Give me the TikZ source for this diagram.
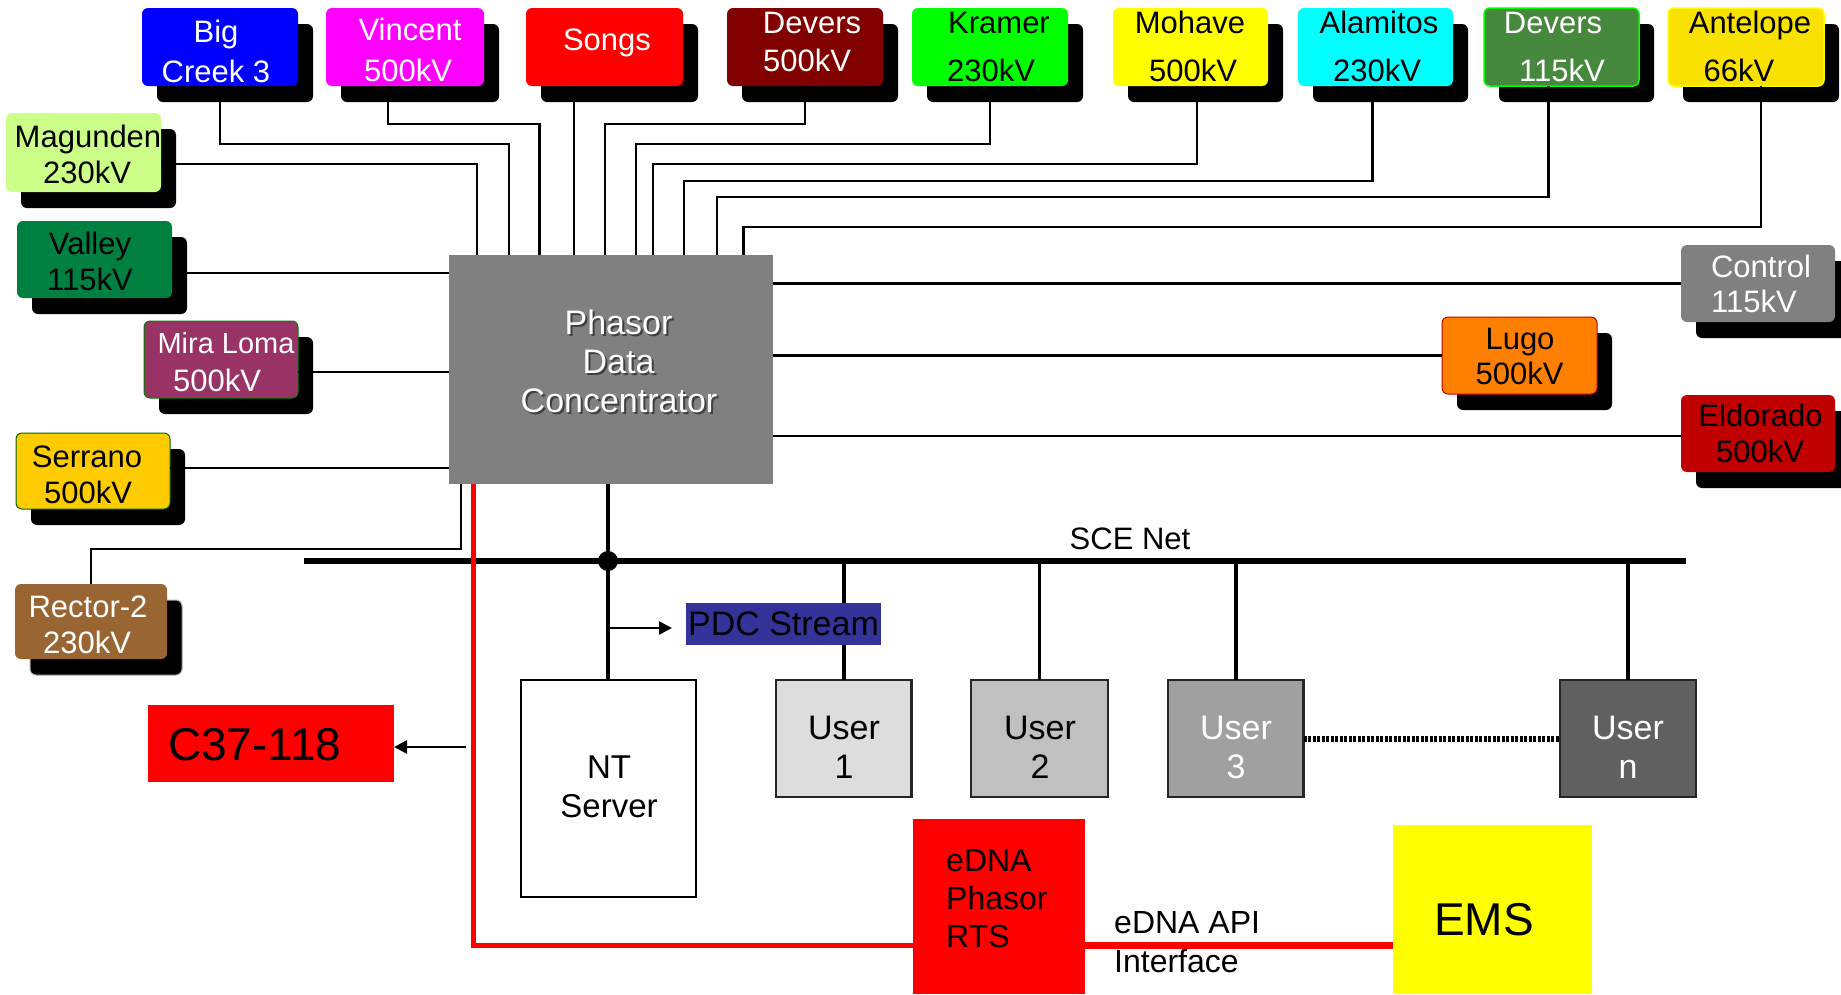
\documentclass[tikz,border=0pt]{standalone}
\usepackage{fontspec}
\setmainfont{Liberation Sans}
\usetikzlibrary{shadows,arrows.meta}
\definecolor{cBlue}{RGB}{0,0,255}
\definecolor{cMagenta}{RGB}{255,0,255}
\definecolor{cRed}{RGB}{255,0,0}
\definecolor{cGreen}{RGB}{0,255,0}
\definecolor{cYellow}{RGB}{255,255,0}
\definecolor{cCyan}{RGB}{0,255,255}
\definecolor{cMag}{RGB}{204,255,136}
\definecolor{cVal}{RGB}{0,128,64}
\definecolor{cDvA}{RGB}{128,0,0}
\definecolor{cDvB}{RGB}{70,136,62}
\definecolor{cAnt}{RGB}{250,226,0}
\definecolor{cMir}{RGB}{153,51,102}
\definecolor{cSer}{RGB}{255,204,0}
\definecolor{cRec}{RGB}{153,102,51}
\definecolor{cLug}{RGB}{255,128,0}
\definecolor{cEld}{RGB}{192,0,0}
\definecolor{cGray}{RGB}{128,128,128}
\definecolor{cPs}{RGB}{51,51,153}
\definecolor{cU1}{RGB}{221,221,221}
\definecolor{cU2}{RGB}{192,192,192}
\definecolor{cU3}{RGB}{160,160,160}
\definecolor{cUn}{RGB}{96,96,96}
\begin{document}
\begin{tikzpicture}[x=1pt,y=-1pt,
  st/.style={rounded corners=6pt, inner sep=0pt, outer sep=0pt,
    drop shadow={shadow xshift=15pt, shadow yshift=-16pt, opacity=1, fill=black}},
  topst/.style={st, minimum height=78pt},
  sidest/.style={st, minimum height=77pt},
  lbl/.style={anchor=base, inner sep=0pt, outer sep=0pt, font=\fontsize{31}{36}\selectfont},
  lblw/.style={lbl, text=white},
  big/.style={anchor=base, inner sep=0pt, outer sep=0pt, font=\fontsize{34}{39}\selectfont},
  blk/.style={inner sep=0pt, outer sep=0pt},
  wire/.style={draw=black, line width=2.2pt},
  ubox/.style={blk, draw=black!85, line width=2.5pt, minimum height=117pt},
  arr/.style={line width=2.5pt, -{Triangle[length=13pt,width=13pt]}}
]
\useasboundingbox (0,0) rectangle (1841,994);

% ---------- top row stations ----------
\node[topst, fill=cBlue, minimum width=156pt] (bc) at (220,47) {};
\node[lblw] (bc1) at (216,42) {Big};
\node[lblw] (bc2) at (216,82) {Creek 3};

\node[topst, fill=cMagenta, minimum width=158pt] (vin) at (405,47) {};
\node[lblw] (vin1) at (410,40) {Vincent};
\node[lblw] (vin2) at (408,81) {500kV};

\node[topst, fill=cRed, minimum width=157pt] (son) at (604.5,47) {};
\node[lblw] (son1) at (607,50) {Songs};

\node[topst, fill=cDvA, minimum width=156pt] (dv5) at (805,47) {};
\node[lblw] (dv51) at (812,33) {Devers};
\node[lblw] (dv52) at (807,71) {500kV};

\node[topst, fill=cGreen, minimum width=156pt] (kra) at (990,47) {};
\node[lbl] (kra1) at (999,33) {Kramer};
\node[lbl] (kra2) at (991,81) {230kV};

\node[topst, fill=cYellow, minimum width=155pt] (moh) at (1190.5,47) {};
\node[lbl] (moh1) at (1190,33) {Mohave};
\node[lbl] (moh2) at (1193,81) {500kV};

\node[topst, fill=cCyan, minimum width=155pt] (ala) at (1375.5,47) {};
\node[lbl] (ala1) at (1379,33) {Alamitos};
\node[lbl] (ala2) at (1377,81) {230kV};

\node[topst, fill=cDvB, draw=cGreen, line width=1.5pt, minimum width=155pt] (dv1) at (1561.5,47) {};
\node[lblw] (dv11) at (1553,33) {Devers};
\node[lblw] (dv12) at (1562,81) {115kV};

\node[topst, fill=cAnt, draw=cYellow, line width=1.5pt, minimum width=156pt] (ant) at (1746,47) {};
\node[lbl] (ant1) at (1750,33) {Antelope};
\node[lbl] (ant2) at (1739,81) {66kV};

% ---------- left stations ----------
\node[st, fill=cMag, minimum width=155pt, minimum height=79pt] (mag) at (83.5,152.5) {};
\node[lbl] (mag1) at (88,147) {Magunden};
\node[lbl] (mag2) at (87,183) {230kV};

\node[sidest, fill=cVal, minimum width=155pt] (val) at (94.5,259.5) {};
\node[lbl] (val1) at (90,254) {Valley};
\node[lbl] (val2) at (90,290) {115kV};

\node[sidest, fill=cMir, draw=green!50!black, line width=1pt, minimum width=154pt] (mir) at (221,359.5) {};
\node[lblw, font=\fontsize{29}{34}\selectfont] (mir1) at (226,353) {Mira Loma};
\node[lblw] (mir2) at (217,391) {500kV};

\node[st, fill=cSer, draw=green!40!black, line width=1pt, minimum width=154pt, minimum height=76pt] (ser) at (93,471) {};
\node[lbl] (ser1) at (87,467) {Serrano};
\node[lbl] (ser2) at (88,503) {500kV};

\node[st, fill=cRec, minimum width=152pt, minimum height=75pt,
  drop shadow={shadow xshift=15pt, shadow yshift=-16pt, opacity=1, fill=black, draw=gray!60, line width=1pt}] (rec) at (91,621.5) {};
\node[lblw] (rec1) at (88,617) {Rector-2};
\node[lblw] (rec2) at (87,653) {230kV};

% ---------- right stations ----------
\node[sidest, fill=cGray, minimum width=154pt] (ctl) at (1758,283.5) {};
\node[lblw] (ctl1) at (1761,277) {Control};
\node[lblw] (ctl2) at (1754,312) {115kV};

\node[sidest, fill=cLug, draw=cEld, line width=1pt, minimum width=155pt] (lug) at (1519.5,355.5) {};
\node[lbl] (lug1) at (1520,349) {Lugo};
\node[lbl] (lug2) at (1519.5,384) {500kV};

\node[sidest, fill=cEld, minimum width=154pt] (eld) at (1758,433.5) {};
\node[lbl] (eld1) at (1760.5,426) {Eldorado};
\node[lbl] (eld2) at (1760,462) {500kV};

% ---------- PDC ----------
\node[blk, fill=cGray, minimum width=324.5pt, minimum height=229.5pt] (pdc) at (610.75,369.25) {};
\node[big, text=black!75] (p1s) at (620.5,336) {Phasor};
\node[big, text=black!75] (p2s) at (620.5,375) {Data};
\node[big, text=black!75] (p3s) at (621,414) {Concentrator};
\node[big, text=white] (p1) at (618.5,334) {Phasor};
\node[big, text=white] (p2) at (618.5,373) {Data};
\node[big, text=white] (p3) at (619,412) {Concentrator};

% ---------- connectors to PDC ----------
\draw[wire] (bc.south) |- (509,144) -- (509,144 |- pdc.north);
\draw[wire] ([xshift=-17pt]vin.south) |- (539.5,124) -- (539.5,124 |- pdc.north);
\draw[wire] ([xshift=-30.5pt]son.south) -- ([xshift=-30.5pt]son.south |- pdc.north);
\draw[wire] (dv5.south) |- (605,124) -- (605,124 |- pdc.north);
\draw[wire] (kra.south) |- (636,144) -- (636,144 |- pdc.north);
\draw[wire] ([xshift=6.5pt]moh.south) |- (653,164) -- (653,164 |- pdc.north);
\draw[wire] ([xshift=-3pt]ala.south) |- (684,181) -- (684,181 |- pdc.north);
\draw[wire] ([xshift=-13pt]dv1.south) |- (717,197) -- (717,197 |- pdc.north);
\draw[wire] ([xshift=15pt]ant.south) |- (743.5,227) -- (743.5,227 |- pdc.north);
\draw[wire] (mag.east |- 0,164) -| (477,0 |- pdc.north);
\draw[wire] (val.east |- 0,273) -- (pdc.west |- 0,273);
\draw[wire] (mir.east |- 0,372) -- (pdc.west |- 0,372);
\draw[wire] (ser.east |- 0,468) -- (pdc.west |- 0,468);
\draw[wire] (rec.north) |- (461,549) -- (461,549 |- pdc.south);
\draw[wire] (pdc.east |- ctl.west) -- (ctl.west);
\draw[wire] (pdc.east |- lug.west) -- (lug.west);
\draw[wire] (pdc.east |- 0,436) -- (eld.west |- 0,436);

% ---------- lower part ----------
\node[blk, draw=black, line width=2pt, fill=white, minimum width=175pt, minimum height=217pt] (nt) at (608,788.5) {};
\node[big, font=\fontsize{33}{38}\selectfont] (nt1) at (609,778) {NT};
\node[big, font=\fontsize{33}{38}\selectfont] (nt2) at (609,817) {Server};

\node[ubox, fill=cU1, minimum width=135.6pt] (u1) at (843.8,738.5) {};
\node[big] (u1a) at (844,739) {User};
\node[big] (u1b) at (844,778) {1};
\node[ubox, fill=cU2, minimum width=137pt] (u2) at (1039.5,738.5) {};
\node[big] (u2a) at (1040,739) {User};
\node[big] (u2b) at (1040,778) {2};
\node[ubox, fill=cU3, minimum width=135.6pt] (u3) at (1235.8,738.5) {};
\node[big, text=white] (u3a) at (1236,739) {User};
\node[big, text=white] (u3b) at (1236,778) {3};
\node[ubox, fill=cUn, minimum width=136pt] (un) at (1628,738.5) {};
\node[big, text=white] (una) at (1628,739) {User};
\node[big, text=white] (unb) at (1628,778) {n};

\node[blk, fill=cRed, minimum width=246pt, minimum height=77pt] (c37) at (271,743.5) {};
\node[anchor=base west, inner sep=0pt, font=\fontsize{46}{52}\selectfont] (c37t) at (168,760) {C37-118};

\node[blk, fill=cRed, minimum width=172pt, minimum height=175pt] (edna) at (999,906.5) {};
\node[anchor=base west, inner sep=0pt, font=\fontsize{32}{37}\selectfont] (ed1) at (946,871) {eDNA};
\node[anchor=base west, inner sep=0pt, font=\fontsize{32}{37}\selectfont] (ed2) at (946,909) {Phasor};
\node[anchor=base west, inner sep=0pt, font=\fontsize{32}{37}\selectfont] (ed3) at (946,947) {RTS};

\node[blk, fill=cYellow, minimum width=199pt, minimum height=169pt] (ems) at (1492.5,909.5) {};
\node[anchor=base, inner sep=0pt, font=\fontsize{46}{52}\selectfont] (emst) at (1484,935) {EMS};

\node[anchor=base west, inner sep=0pt, font=\fontsize{32}{37}\selectfont] (api1) at (1114,933) {eDNA API};
\node[anchor=base west, inner sep=0pt, font=\fontsize{32}{37}\selectfont] (api2) at (1114,972) {Interface};

% bus
\coordinate (busL) at (303.6,561);
\coordinate (busR) at (1686,561);
\draw[line width=6.5pt] (busL) -- (busR);
\node[lbl] (sce) at (1130,549) {SCE Net};

\draw[line width=4pt] (nt.north |- pdc.south) -- (nt.north);
\node[circle, fill=black, minimum size=20pt, inner sep=0pt] (dot) at (nt.north |- busL) {};
\foreach \u in {u1,u2,u3,un}{
  \draw[line width=3.5pt] (\u.north |- busL) -- (\u.north);
}
\draw[line width=6pt, dash pattern=on 3pt off 1.5pt] (u3.east) -- (un.west);

% PDC stream label (over the User 1 line)
\node[blk, fill=cPs, minimum width=195pt, minimum height=42pt] (ps) at (783.5,624) {};
\node[big] (pst) at (783.5,635) {PDC Stream};

\coordinate (tap) at (608,628);
\draw[arr] (tap) -- ([xshift=-14pt]ps.west |- tap);
\coordinate (ctap) at (466,747);
\draw[arr] (ctap) -- (c37.east |- ctap);

% red link
\draw[cRed, line width=5pt] (473,0 |- pdc.south) |- (edna.west |- 0,945);
\draw[cRed, line width=7pt] (edna.east |- 0,945) -- (ems.west |- 0,945);
\end{tikzpicture}
\end{document}
